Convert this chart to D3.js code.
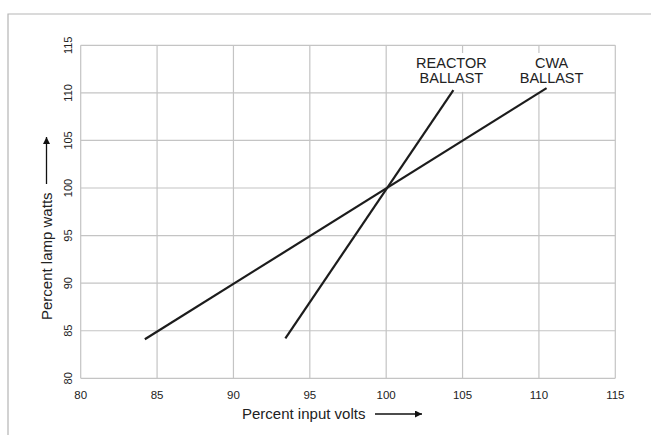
<!DOCTYPE html>
<html lang="en">
	<head>
		<meta charset="utf-8">
		<title>Lamp watts vs input volts</title>
		<script type="text/javascript" src="https://d3js.org/d3.v7.min.js"></script>
		<style>
			body { margin: 0; background: #fff; }
			text { font-family: "Liberation Sans", Arial, sans-serif; fill: #222; }
			.grid line { stroke: #c4c4c4; stroke-width: 1.2; }
			.curve { fill: none; stroke: #1c1c1c; stroke-width: 2.2; }
		</style>
	</head>
	<body>
		<script type="text/javascript">

			// Data
			var xTicks = [80, 85, 90, 95, 100, 105, 110, 115];
			var yTicks = [80, 85, 90, 95, 100, 105, 110, 115];

			var cwaVolts = [84.2, 110.5];
			var cwaWatts = [84.1, 110.5];

			var reactorVolts = [93.4, 104.4];
			var reactorWatts = [84.2, 110.3];

			var seriesNames = [["REACTOR", "BALLAST"], ["CWA", "BALLAST"]];

			var xTitle = "Percent input volts";
			var yTitle = "Percent lamp watts";

			//Width and height
			var w = 651;
			var h = 435;
			var plotL = 80.7, plotR = 615.3, plotT = 45.3, plotB = 378.3;

			var svg = d3.select("body")
						.append("svg")
						.attr("width", w)
						.attr("height", h);

			// arrow head
			svg.append("defs").append("marker")
				.attr("id", "head")
				.attr("viewBox", "0 0 10 10")
				.attr("refX", 10).attr("refY", 5)
				.attr("markerWidth", 9).attr("markerHeight", 7)
				.attr("markerUnits", "userSpaceOnUse")
				.attr("orient", "auto")
				.append("path")
				.attr("d", "M0,0 L10,5 L0,10 z")
				.attr("fill", "#111");

			// outer frame (top and left only)
			svg.append("path")
				.attr("d", "M8," + h + " V14 H" + w)
				.attr("fill", "none")
				.attr("stroke", "#b5b5b5")
				.attr("stroke-width", 1.2);

			//Create scale functions
			var xScale = d3.scaleLinear().domain([80, 115]).range([plotL, plotR]);
			var yScale = d3.scaleLinear().domain([80, 115]).range([plotB, plotT]);

			// grid
			var grid = svg.append("g").attr("class", "grid");
			grid.selectAll("line.v").data(xTicks).enter().append("line")
				.attr("class", "v")
				.attr("x1", function(d) { return xScale(d); })
				.attr("x2", function(d) { return xScale(d); })
				.attr("y1", plotT).attr("y2", plotB);
			grid.selectAll("line.h").data(yTicks).enter().append("line")
				.attr("class", "h")
				.attr("x1", plotL).attr("x2", plotR)
				.attr("y1", function(d) { return yScale(d); })
				.attr("y2", function(d) { return yScale(d); });

			// white patches behind the series labels
			var labelX = [xScale(reactorVolts[1]) - 2, xScale(cwaVolts[1]) + 5];
			var labelW = [80, 58];
			svg.selectAll("rect.lbg").data(labelX).enter().append("rect")
				.attr("class", "lbg")
				.attr("x", function(d, i) { return d - labelW[i] / 2; })
				.attr("y", 53)
				.attr("width", function(d, i) { return labelW[i]; })
				.attr("height", yScale(110) - 54)
				.attr("fill", "#fff");

			// x tick labels
			svg.selectAll("text.xt").data(xTicks).enter().append("text")
				.attr("class", "xt")
				.attr("x", function(d) { return xScale(d); })
				.attr("y", 399)
				.attr("text-anchor", "middle")
				.style("font-size", "11.5px")
				.text(function(d) { return d; });

			// y tick labels, rotated
			svg.selectAll("text.yt").data(yTicks).enter().append("text")
				.attr("class", "yt")
				.attr("transform", function(d) { return "translate(72," + yScale(d) + ") rotate(-90)"; })
				.attr("text-anchor", "middle")
				.style("font-size", "11px")
				.text(function(d) { return d; });

			//Define line generator
			var line = d3.line()
						.x(function(d) { return xScale(d[0]); })
						.y(function(d) { return yScale(d[1]); });

			//Create lines
			svg.append("path").datum(d3.zip(cwaVolts, cwaWatts)).attr("class", "curve").attr("d", line);
			svg.append("path").datum(d3.zip(reactorVolts, reactorWatts)).attr("class", "curve").attr("d", line);

			// series labels, one text per row
			seriesNames.forEach(function(rows, i) {
				rows.forEach(function(s, j) {
					svg.append("text")
						.attr("x", labelX[i])
						.attr("y", 68.3 + j * 14.4)
						.attr("text-anchor", "middle")
						.style("font-size", "14.5px")
						.text(s);
				});
			});

			// axis titles with arrows
			svg.append("text")
				.attr("x", 242)
				.attr("y", 419)
				.style("font-size", "15px")
				.text(xTitle);
			svg.append("line")
				.attr("x1", 375).attr("x2", 422)
				.attr("y1", 414).attr("y2", 414)
				.attr("stroke", "#111").attr("stroke-width", 1.3)
				.attr("marker-end", "url(#head)");

			svg.append("text")
				.attr("transform", "translate(52,320) rotate(-90)")
				.style("font-size", "15px")
				.text(yTitle);
			svg.append("line")
				.attr("x1", 46.5).attr("x2", 46.5)
				.attr("y1", 184).attr("y2", 137)
				.attr("stroke", "#111").attr("stroke-width", 1.3)
				.attr("marker-end", "url(#head)");

		</script>
	</body>
</html>
